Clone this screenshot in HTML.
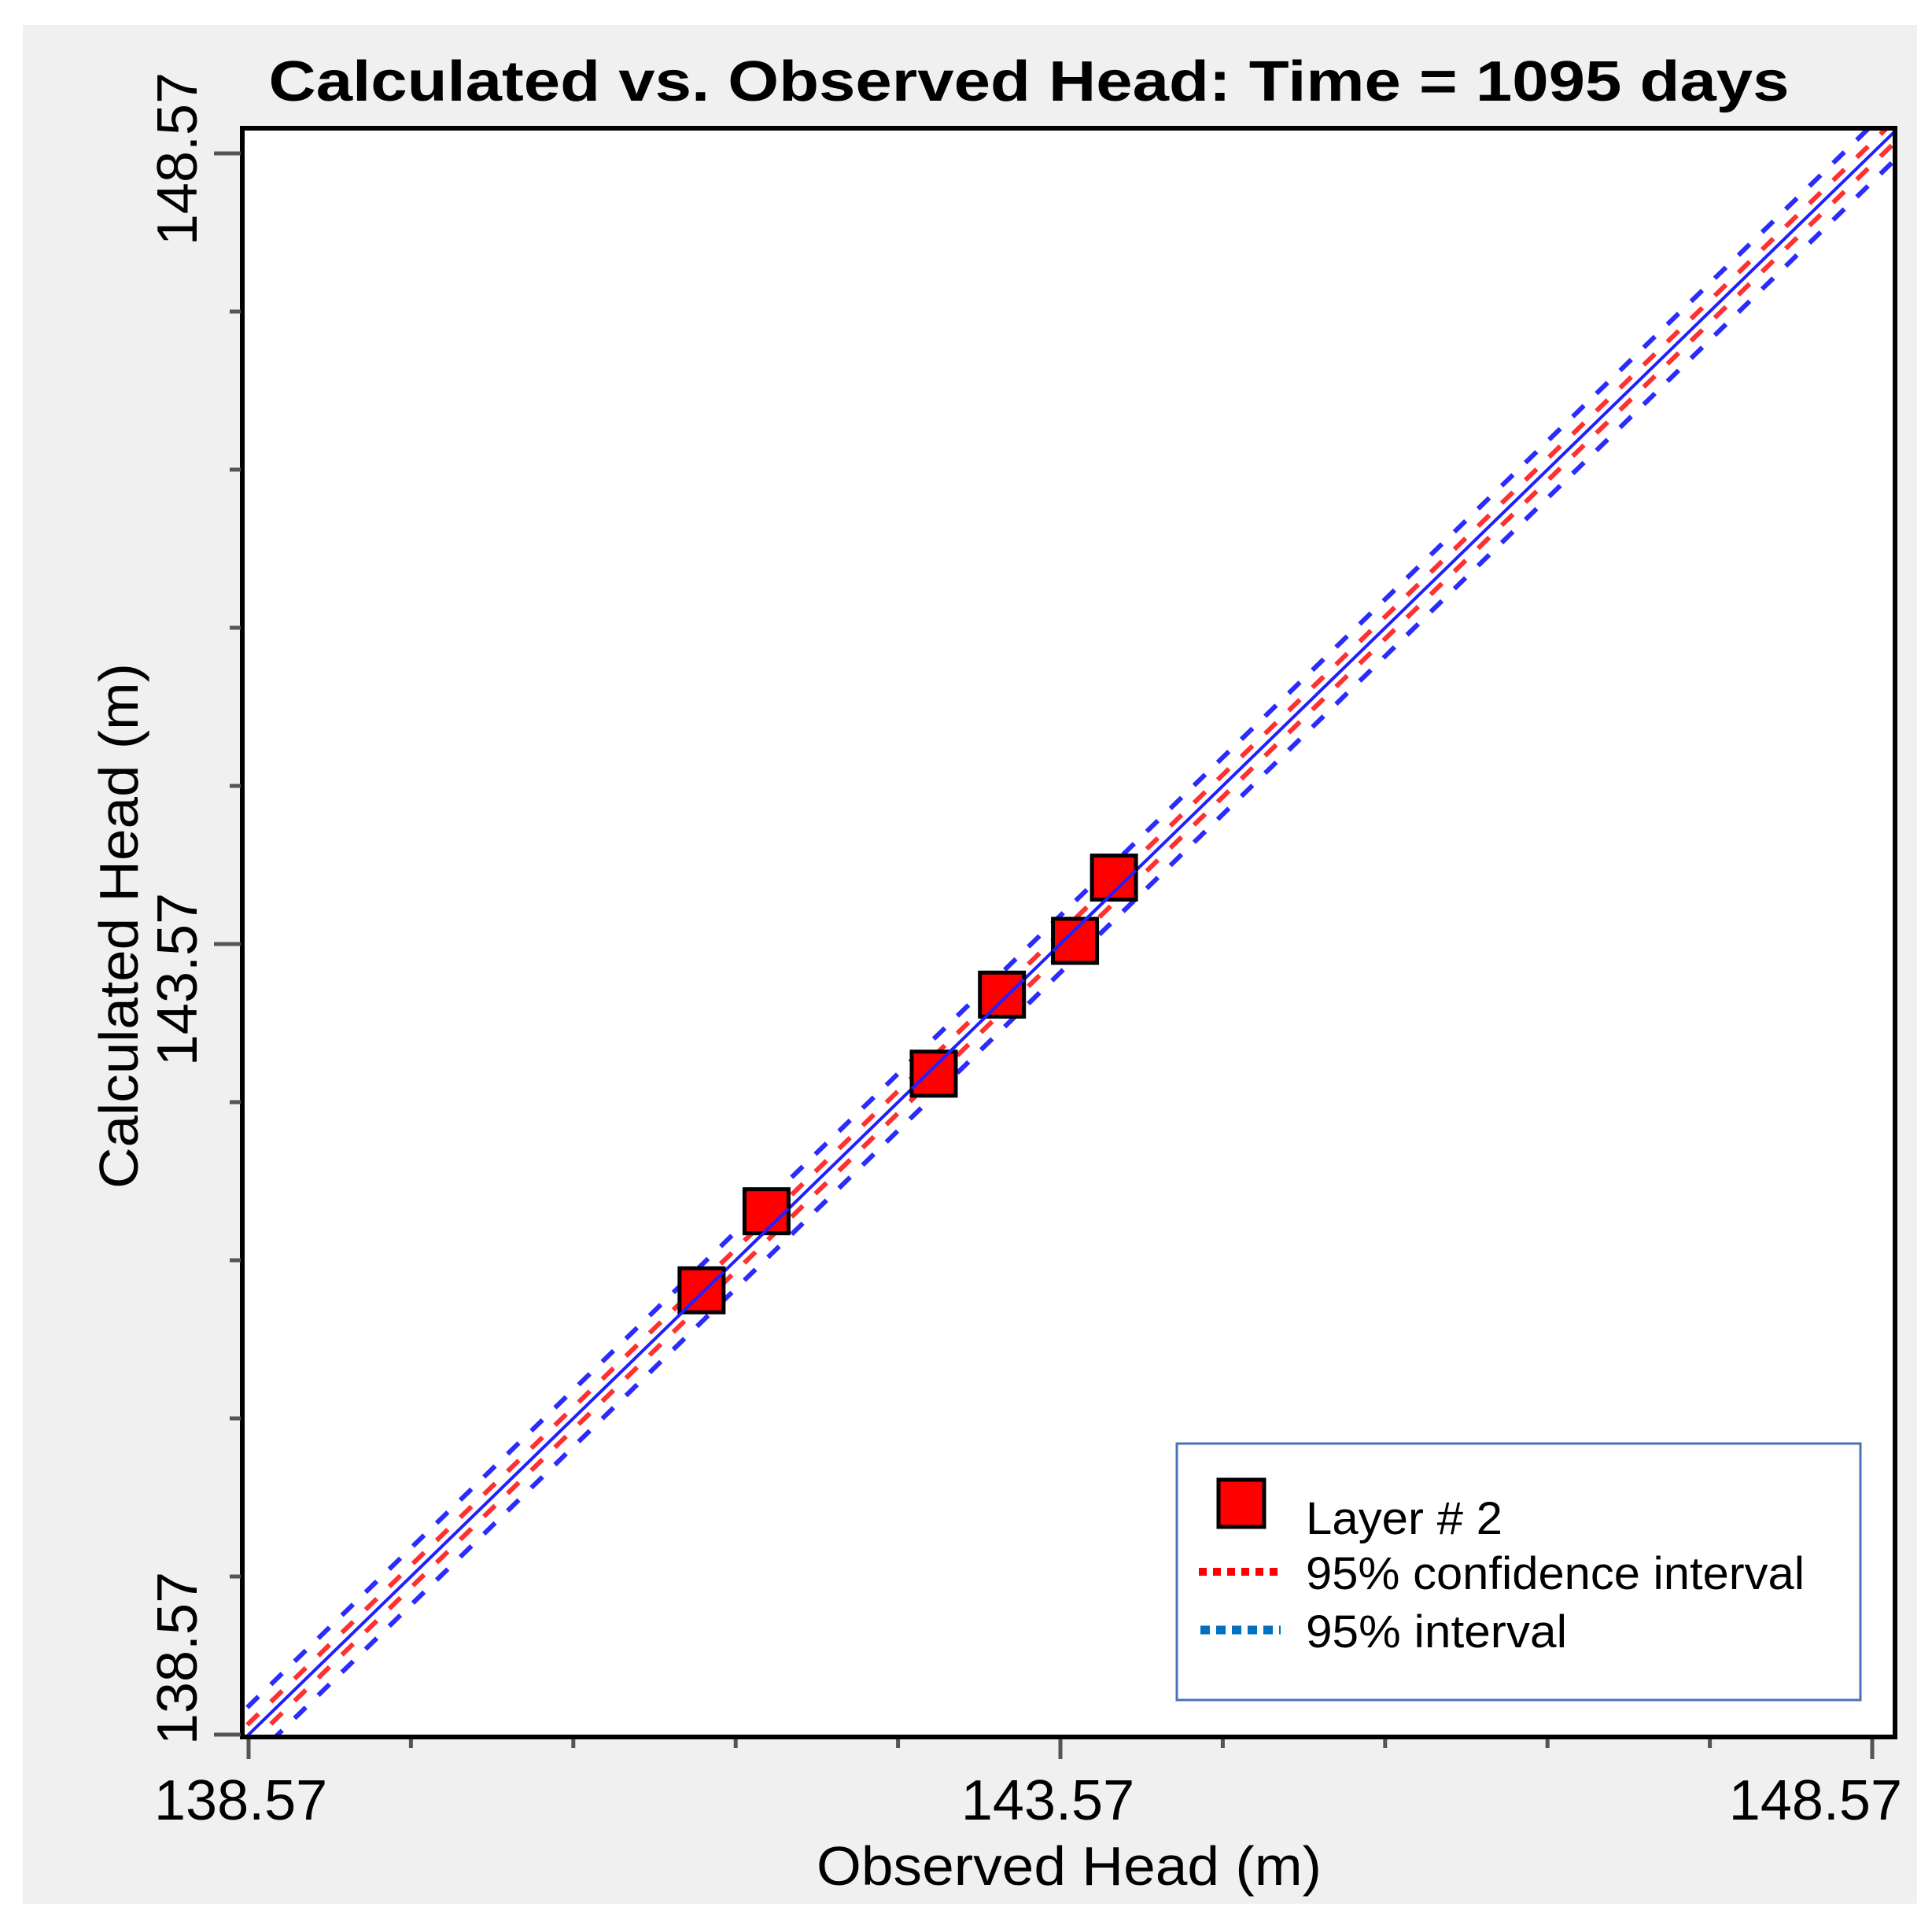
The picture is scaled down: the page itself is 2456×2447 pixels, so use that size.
<!DOCTYPE html>
<html><head><meta charset="utf-8"><style>
html,body{margin:0;padding:0;background:#fff;}
svg{display:block;font-family:"Liberation Sans",Arial,sans-serif;}
</style></head><body>
<svg id="chart" width="2456" height="2447" viewBox="0 0 2456 2447" xmlns="http://www.w3.org/2000/svg">
<rect x="29" y="32" width="2408" height="2388" fill="#f0f0f0"/>
<text x="1308" y="128" text-anchor="middle" font-size="72" font-weight="bold" textLength="1933" lengthAdjust="spacingAndGlyphs">Calculated vs. Observed Head: Time = 1095 days</text>
<defs><clipPath id="plotclip"><rect x="308" y="163" width="2101" height="2045"/></clipPath></defs>
<rect x="308" y="163" width="2101" height="2045" fill="#fff"/>
<g id="lines" clip-path="url(#plotclip)"></g>
<g id="marks"></g>
<rect x="308" y="163" width="2101" height="2045" fill="none" stroke="#000" stroke-width="6"/>
<g id="ticks"></g>
<text x="1359" y="2396" text-anchor="middle" font-size="70" textLength="642" lengthAdjust="spacingAndGlyphs">Observed Head (m)</text>
<text transform="translate(175,1177) rotate(-90)" text-anchor="middle" font-size="70" textLength="668" lengthAdjust="spacingAndGlyphs">Calculated Head (m)</text>
<g>
<rect x="1496" y="1835" width="869" height="326" fill="#fff" stroke="#4a72b8" stroke-width="3"/>
<rect x="1549" y="1881" width="58" height="60" fill="#f00" stroke="#000" stroke-width="5"/>
<text x="1660" y="1950" font-size="58" textLength="250" lengthAdjust="spacingAndGlyphs">Layer # 2</text>
<line x1="1524" y1="1998" x2="1624" y2="1998" stroke="#f00" stroke-width="10" stroke-dasharray="10,8"/>
<text x="1660" y="2020" font-size="58" textLength="634" lengthAdjust="spacingAndGlyphs">95% confidence interval</text>
<line x1="1526" y1="2072" x2="1628" y2="2072" stroke="#0070c0" stroke-width="11" stroke-dasharray="12,8"/>
<text x="1660" y="2094" font-size="58" textLength="332" lengthAdjust="spacingAndGlyphs">95% interval</text>
</g>
</svg>
<script>
const obsX = [141.36, 141.76, 142.79, 143.21, 143.66, 143.90];
const calcY = [141.38, 141.88, 142.75, 143.25, 143.59, 143.99];
const axisMin = 138.57;
const axisMax = 148.57;
const confOffset = 0.07;
const predOffset = 0.18;
const tickLabels = ["138.57", "143.57", "148.57"];
const tickValues = [138.57, 143.57, 148.57];

const NS = "http://www.w3.org/2000/svg";
function sx(v){ return 316 + (v - axisMin) * 206.4; }
function sy(v){ return 2205 - (v - axisMin) * 201.0; }
function mk(tag, attrs, parent){
  const e = document.createElementNS(NS, tag);
  for (const k in attrs) e.setAttribute(k, attrs[k]);
  parent.appendChild(e); return e;
}
const lines = document.getElementById('lines');
const lo = axisMin - 0.3, hi = axisMax + 0.3;
function diag(off, color, dash, name, w){
  const l = mk('line', {x1: sx(lo), y1: sy(lo + off), x2: sx(hi), y2: sy(hi + off), stroke: color, 'stroke-width': w}, lines);
  if (dash) l.setAttribute('stroke-dasharray', dash);
  
  
}
diag(predOffset, '#2b2bff', '20,22', 'prediction-interval-upper', 6);
diag(-predOffset, '#2b2bff', '20,22', 'prediction-interval-lower', 6);
diag(confOffset, '#ff3030', '20,22', 'confidence-interval-upper', 6);
diag(-confOffset, '#ff3030', '20,22', 'confidence-interval-lower', 6);
diag(0, '#2020ff', null, 'one-to-one-line', 4);

const marks = document.getElementById('marks');
for (let i = 0; i < obsX.length; i++){
  const r = mk('rect', {x: sx(obsX[i]) - 28, y: sy(calcY[i]) - 28, width: 56, height: 56, fill: '#f00', stroke: '#000', 'stroke-width': 5}, marks);
  
  
  const l = mk('line', {x1: sx(obsX[i]) - 28, y1: sy(obsX[i] - 28/206.4), x2: sx(obsX[i]) + 28, y2: sy(obsX[i] + 28/206.4), stroke: '#2020ff', 'stroke-width': 4}, marks);
  
  
}

const ticks = document.getElementById('ticks');
for (let k = 0; k <= 10; k++){
  const v = axisMin + k;
  const major = (k % 5 === 0);
  const tx = mk('line', {x1: sx(v), y1: 2211, x2: sx(v), y2: major ? 2236 : 2222, stroke: '#555', 'stroke-width': 5}, ticks);
  
  
  const ty = mk('line', {x1: major ? 272 : 292, y1: sy(v), x2: 306, y2: sy(v), stroke: '#555', 'stroke-width': 5}, ticks);
  
  
}
const xAnchors = ['start', 'middle', 'end'];
const xShift = [-120, -16, 38];
const yShift = [-97, 45, 7];
for (let i = 0; i < tickValues.length; i++){
  const t = mk('text', {x: sx(tickValues[i]) + xShift[i], y: 2313, 'text-anchor': xAnchors[i], 'font-size': 72}, ticks);
  t.textContent = tickLabels[i];
  
  
  const cy = sy(tickValues[i]) + yShift[i];
  const u = mk('text', {transform: 'translate(250,' + cy + ') rotate(-90)', 'text-anchor': 'middle', 'font-size': 72}, ticks);
  u.textContent = tickLabels[i];
  
  
}
</script>
</body></html>
